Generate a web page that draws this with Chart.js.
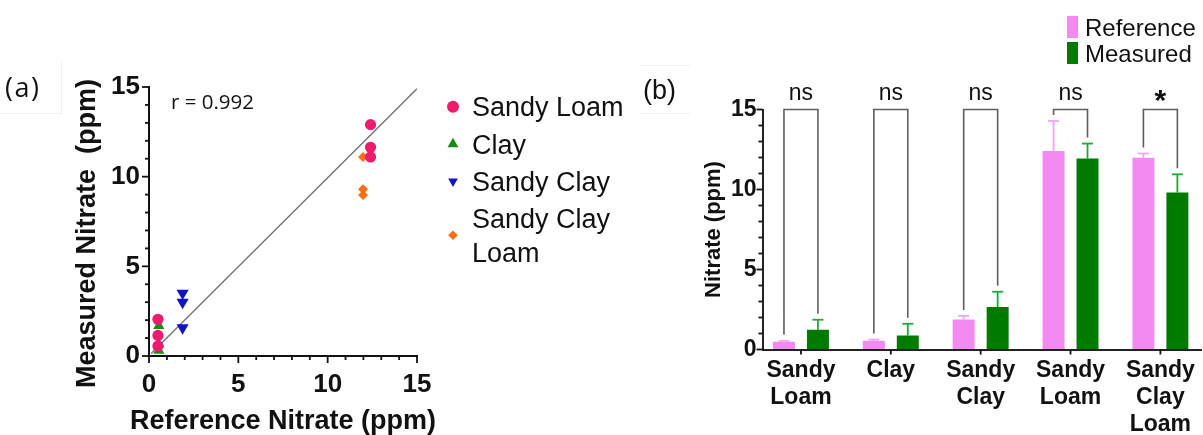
<!DOCTYPE html>
<html>
<head>
<meta charset="utf-8">
<title>Nitrate: reference vs measured</title>
<script src="https://cdn.jsdelivr.net/npm/chart.js@4.4.1/dist/chart.umd.min.js"></script>
<style>
  html, body { margin: 0; padding: 0; background: #fff; overflow: hidden; }
  body { width: 1203px; height: 435px; position: relative; }
  #panelA { position: absolute; left: 0; top: 0; width: 640px; height: 435px; }
  #panelB { position: absolute; left: 640px; top: 0; width: 563px; height: 435px; }
</style>
</head>
<body>
<div id="panelA"><canvas id="scatter" width="640" height="435"></canvas></div>
<div id="panelB"><canvas id="bars" width="563" height="435"></canvas></div>
<script>
// ---- (a) reference vs measured nitrate, one point per sample (ppm) ----
const sandyLoamRef       = [0.5, 0.5, 0.5, 12.4, 12.4, 12.4];
const sandyLoamMeas      = [2.05, 1.15, 0.56, 12.9, 11.64, 11.1];
const clayRef            = [0.55, 0.55, 0.55];
const clayMeas           = [1.68, 0.65, 0.3];
const sandyClayRef       = [1.88, 1.88, 1.88];
const sandyClayMeas      = [3.5, 3.0, 1.58];
const sandyClayLoamRef   = [11.98, 11.98, 11.98];
const sandyClayLoamMeas  = [11.1, 9.3, 8.98];
// least-squares line end points
const fitRef  = [0.12, 15];
const fitMeas = [0.14, 14.9];
const correlation = 'r = 0.992';

// ---- (b) group means and SD (ppm) ----
const soilClasses   = [['Sandy', 'Loam'], ['Clay'], ['Sandy', 'Clay'], ['Sandy', 'Loam'], ['Sandy', 'Clay', 'Loam']];
const referenceMean = [0.49, 0.55, 1.87, 12.4, 11.98];
const referenceSD   = [0.05, 0.07, 0.23, 1.88, 0.27];
const measuredMean  = [1.24, 0.87, 2.65, 11.93, 9.81];
const measuredSD    = [0.62, 0.74, 0.96, 0.94, 1.14];
const significance  = ['ns', 'ns', 'ns', 'ns', '*'];
const bracketLevel  = 15;

const SANS = '"Liberation Sans", Arial, sans-serif';
const OPEN = '"Open Sans", "Liberation Sans", sans-serif';
const INK = '#111';
Chart.defaults.font.family = SANS;
Chart.defaults.color = INK;

const toPoints = (xs, ys) => xs.map((x, i) => ({ x, y: ys[i] }));
const majorEvery = 5;

function line(ctx, x1, y1, x2, y2) {
  ctx.beginPath(); ctx.moveTo(x1, y1); ctx.lineTo(x2, y2); ctx.stroke();
}

// tick marks: long on multiples of 5, short in between
function drawTickMarks(ctx, chart, xLong, xShort, yLong, yShort, xAll) {
  const { x, y } = chart.scales;
  const a = chart.chartArea;
  ctx.save();
  ctx.strokeStyle = INK;
  ctx.lineWidth = 1.8;
  x.ticks.forEach(t => {
    const p = x.getPixelForValue(t.value);
    const len = (xAll || t.value % majorEvery === 0) ? xLong : xShort;
    line(ctx, p, a.bottom, p, a.bottom + len);
  });
  y.ticks.forEach(t => {
    const p = y.getPixelForValue(t.value);
    const len = t.value % majorEvery === 0 ? yLong : yShort;
    line(ctx, a.left, p, a.left - len, p);
  });
  ctx.restore();
}

// ================= (a) scatter =================
const scatterDecor = {
  id: 'scatterDecor',
  afterDraw(chart) {
    const ctx = chart.ctx;
    const a = chart.chartArea;
    drawTickMarks(ctx, chart, 7, 4, 7, 4, false);
    ctx.save();
    // faint frame left around the panel letter
    ctx.strokeStyle = '#efefef'; ctx.lineWidth = 1;
    line(ctx, 0, 113.5, 62, 113.5);
    line(ctx, 61.5, 62, 61.5, 113.5);
    ctx.fillStyle = INK;
    ctx.textAlign = 'left'; ctx.textBaseline = 'alphabetic';
    ctx.font = '27px ' + OPEN;
    ctx.letterSpacing = '1.5px';
    ctx.fillText('(a)', 5, 97);
    ctx.letterSpacing = '0px';
    ctx.font = '20.5px ' + OPEN;
    ctx.fillText(correlation, 171, 109);
    // axis titles
    ctx.font = 'bold 27px ' + SANS;
    ctx.textAlign = 'center';
    ctx.fillText('Reference Nitrate (ppm)', (a.left + a.right) / 2, 428.5);
    ctx.translate(94.5, 233.5);
    ctx.rotate(-Math.PI / 2);
    ctx.fillText('Measured Nitrate  (ppm)', 0, 0);
    ctx.restore();

    // legend
    ctx.save();
    ctx.font = '27px ' + SANS;
    ctx.textAlign = 'left'; ctx.textBaseline = 'alphabetic';
    let rowY = 106.7;
    chart.data.datasets.forEach(ds => {
      if (!ds.legendLines) return;
      const lines = ds.legendLines;
      const midY = rowY + (lines.length - 1) * 33.2 / 2;
      ctx.fillStyle = ds.backgroundColor;
      Chart.helpers.drawPoint(ctx, { pointStyle: ds.pointStyle, rotation: ds.rotation || 0, radius: ds.legendRadius, borderWidth: 0 }, 453, midY);
      ctx.fillStyle = INK;
      lines.forEach((t, k) => ctx.fillText(t, 472, rowY + k * 33.2 + 9.7));
      rowY += 37.3 + (lines.length - 1) * 33.2;
    });
    ctx.restore();
  }
};

new Chart(document.getElementById('scatter'), {
  type: 'scatter',
  data: {
    datasets: [
      { label: 'Sandy Loam', legendLines: ['Sandy Loam'], data: toPoints(sandyLoamRef, sandyLoamMeas),
        pointStyle: 'circle', pointRadius: 5.6, legendRadius: 6, backgroundColor: '#ee1a6e', borderWidth: 0 },
      { label: 'Clay', legendLines: ['Clay'], data: toPoints(clayRef, clayMeas),
        pointStyle: 'triangle', pointRadius: 6.5, legendRadius: 6.3, backgroundColor: '#168e16', borderWidth: 0 },
      { label: 'Sandy Clay', legendLines: ['Sandy Clay'], data: toPoints(sandyClayRef, sandyClayMeas),
        pointStyle: 'triangle', rotation: 180, pointRotation: 180, pointRadius: 7, legendRadius: 5.6, backgroundColor: '#1212c4', borderWidth: 0 },
      { label: 'Sandy Clay Loam', legendLines: ['Sandy Clay', 'Loam'], data: toPoints(sandyClayLoamRef, sandyClayLoamMeas),
        pointStyle: 'rectRot', pointRadius: 5, legendRadius: 4.8, backgroundColor: '#ff6c12', borderWidth: 0 },
      { type: 'line', label: 'fit', data: toPoints(fitRef, fitMeas), borderColor: '#707070', borderWidth: 1.3,
        pointRadius: 0, fill: false, order: 10 }
    ]
  },
  options: {
    responsive: false,
    animation: false,
    layout: { padding: { top: 87, right: 223, left: 0, bottom: 0 } },
    plugins: { legend: { display: false }, tooltip: { enabled: false } },
    scales: {
      x: {
        type: 'linear', min: 0, max: 15,
        border: { color: INK, width: 2 },
        grid: { drawOnChartArea: false, drawTicks: false },
        ticks: { stepSize: 1, autoSkip: false, maxRotation: 0, padding: 13,
                 callback: v => (v % majorEvery === 0 ? v : ''),
                 font: { size: 26, weight: 'bold' }, color: INK },
        afterFit(s) { s.height = 435 - 356; }
      },
      y: {
        type: 'linear', min: 0, max: 15,
        border: { color: INK, width: 2 },
        grid: { drawOnChartArea: false, drawTicks: false },
        ticks: { stepSize: 1, autoSkip: false, padding: 9,
                 callback: v => (v % majorEvery === 0 ? v : ''),
                 font: { size: 26, weight: 'bold' }, color: INK },
        afterFit(s) { s.width = 149; }
      }
    }
  },
  plugins: [scatterDecor]
});

// ================= (b) grouped bars =================
const barDecor = {
  id: 'barDecor',
  afterDatasetsDraw(chart) {
    const ctx = chart.ctx;
    const yS = chart.scales.y;
    const metaRef = chart.getDatasetMeta(0);
    const metaMeas = chart.getDatasetMeta(1);
    const sds = [referenceSD, measuredSD];
    // upward error bars
    ctx.save();
    ctx.lineWidth = 1.8;
    [metaRef, metaMeas].forEach((meta, d) => {
      ctx.strokeStyle = chart.data.datasets[d].errorColor;
      meta.data.forEach((bar, i) => {
        const top = yS.getPixelForValue(chart.data.datasets[d].data[i].y + sds[d][i]);
        line(ctx, bar.x, bar.y, bar.x, top);
        line(ctx, bar.x - 5.5, top, bar.x + 5.5, top);
      });
    });
    ctx.restore();

    // comparison brackets and significance marks
    ctx.save();
    ctx.strokeStyle = '#5e5e5e';
    ctx.lineWidth = 1.6;
    const yTop = yS.getPixelForValue(bracketLevel);
    soilClasses.forEach((c, i) => {
      const xl = metaRef.data[i].x, xr = metaMeas.data[i].x;
      const bl = yS.getPixelForValue(referenceMean[i] + referenceSD[i]) - 6;
      const br = yS.getPixelForValue(measuredMean[i] + measuredSD[i]) - 6;
      ctx.beginPath();
      ctx.moveTo(xl, bl); ctx.lineTo(xl, yTop); ctx.lineTo(xr, yTop); ctx.lineTo(xr, br);
      ctx.stroke();
      ctx.fillStyle = INK;
      ctx.textAlign = 'center'; ctx.textBaseline = 'alphabetic';
      const xm = (xl + xr) / 2;
      if (significance[i] === 'ns') {
        ctx.font = '23px ' + SANS;
        ctx.fillText('ns', xm, 100);
      } else {
        ctx.font = 'bold 30px ' + SANS;
        ctx.fillText(significance[i], xm, 110);
      }
    });
    ctx.restore();
  },
  afterDraw(chart) {
    const ctx = chart.ctx;
    drawTickMarks(ctx, chart, 5, 5, 6, 4, true);
    ctx.save();
    ctx.strokeStyle = '#efefef'; ctx.lineWidth = 1;
    line(ctx, 0, 65.5, 50, 65.5);
    line(ctx, 0, 113.5, 50, 113.5);
    ctx.fillStyle = INK;
    ctx.font = '27px ' + SANS;
    ctx.textAlign = 'left'; ctx.textBaseline = 'alphabetic';
    ctx.fillText('(b)', 3, 99);
    // legend
    ctx.font = '24px ' + SANS;
    chart.data.datasets.forEach((ds, d) => {
      const top = 16 + d * 26;
      ctx.fillStyle = ds.backgroundColor;
      ctx.fillRect(427, top, 11, 22);
      ctx.fillStyle = INK;
      ctx.fillText(ds.label, 445, top + 11 + 8.6);
    });
    ctx.restore();
  }
};

new Chart(document.getElementById('bars'), {
  type: 'bar',
  data: {
    datasets: [
      { label: 'Reference', data: toPoints(soilClasses.map((c, i) => i), referenceMean),
        backgroundColor: '#f38af1', errorColor: '#f6a2f3', borderWidth: 0 },
      { label: 'Measured', data: toPoints(soilClasses.map((c, i) => i), measuredMean),
        backgroundColor: '#007b00', errorColor: '#1ea83a', borderWidth: 0 }
    ]
  },
  options: {
    responsive: false,
    animation: false,
    categoryPercentage: 0.756,
    barPercentage: 0.647,
    layout: { padding: { top: 109.5, right: 1, left: 0, bottom: 0 } },
    plugins: { legend: { display: false }, tooltip: { enabled: false } },
    scales: {
      x: {
        type: 'linear', min: -0.428, max: 4.456, offset: false,
        afterBuildTicks(s) { s.ticks = soilClasses.map((c, i) => ({ value: i })); },
        border: { color: '#222', width: 2 },
        grid: { drawOnChartArea: false, drawTicks: false, offset: false },
        ticks: { autoSkip: false, maxRotation: 0, minRotation: 0, padding: 8,
                 callback: v => soilClasses[v],
                 font: { size: 23, weight: 'bold', lineHeight: 1.16 }, color: INK },
        afterFit(s) { s.height = 435 - 349.5; }
      },
      y: {
        type: 'linear', min: 0, max: 15,
        border: { color: '#222', width: 2 },
        grid: { drawOnChartArea: false, drawTicks: false },
        ticks: { stepSize: 1, autoSkip: false, padding: 6,
                 callback: v => (v % majorEvery === 0 ? v : ''),
                 font: { size: 23, weight: 'bold' }, color: INK },
        title: { display: true, text: 'Nitrate (ppm)', color: INK,
                 font: { size: 22, weight: 'bold', lineHeight: 1 }, padding: { top: 63, bottom: 0 } },
        afterFit(s) { s.width = 122.5; }
      }
    }
  },
  plugins: [barDecor]
});
</script>
</body>
</html>
